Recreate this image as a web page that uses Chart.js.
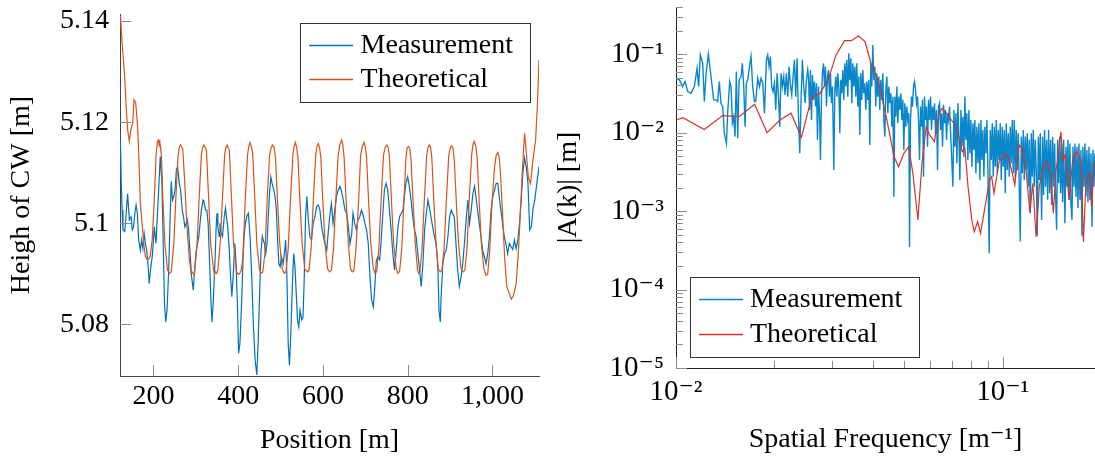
<!DOCTYPE html>
<html>
<head>
<meta charset="utf-8">
<title>Contact wire height and spectrum</title>
<script src="https://cdn.jsdelivr.net/npm/chart.js@4.4.1/dist/chart.umd.min.js"></script>
<style>
  body { margin: 0; background: #fff; }
  #wrap { position: relative; width: 1095px; height: 460px; }
  canvas { position: absolute; top: 0; }
  #heightChart { left: 0; }
  #spectrumChart { left: 548px; }
</style>
</head>
<body>
<div id="wrap">
  <canvas id="heightChart" width="548" height="460"></canvas>
  <canvas id="spectrumChart" width="547" height="460"></canvas>
</div>
<script>
// left plot: height of the contact wire along the line, [position m, height m]
var posTicks = [200, 400, 600, 800, 1000];
var heightTicks = [5.08, 5.1, 5.12, 5.14];

var measured = [
  [122, 5.1165], [124, 5.108], [126, 5.1026], [128, 5.0987], [132, 5.0984], [134, 5.1], [136, 5.1026], [139, 5.1059], [141, 5.1033], [143, 5.1007],
  [147, 5.1013], [150, 5.0987], [153, 5.0993], [156, 5.102], [159, 5.1036], [162, 5.102], [165, 5.0967], [169, 5.0947], [172, 5.0967], [175, 5.095],
  [178, 5.098], [181, 5.096], [184, 5.0947], [187, 5.092], [190, 5.0881], [193, 5.0908], [197, 5.0934], [200, 5.0967], [202, 5.0993], [206, 5.096],
  [209, 5.1013], [213, 5.1079], [216, 5.1132], [220, 5.1079], [223, 5.096], [226, 5.0842], [229, 5.0805], [232, 5.0828], [236, 5.0908], [239, 5.1],
  [242, 5.1083], [245, 5.1046], [248, 5.1053], [251, 5.1066], [254, 5.1106], [257, 5.1112], [261, 5.1079], [264, 5.1066], [268, 5.1026], [271, 5.1013],
  [274, 5.0993], [277, 5.1], [280, 5.1007], [283, 5.0987], [286, 5.0947], [290, 5.0894], [294, 5.0868], [297, 5.0908], [301, 5.0947], [304, 5.096],
  [307, 5.0974], [310, 5.1], [313, 5.1026], [317, 5.1046], [319, 5.1043], [323, 5.1026], [326, 5.1026], [329, 5.1], [332, 5.0934], [335, 5.0861],
  [338, 5.0805], [341, 5.0842], [345, 5.092], [348, 5.0993], [350, 5.102], [352, 5.0993], [355, 5.0974], [357, 5.1], [360, 5.098], [363, 5.0974],
  [367, 5.1013], [370, 5.103], [373, 5.1007], [376, 5.0987], [379, 5.0947], [382, 5.0894], [385, 5.0855], [389, 5.0908], [392, 5.096], [395, 5.092],
  [398, 5.0842], [401, 5.0743], [404, 5.0762], [408, 5.0842], [411, 5.092], [414, 5.0974], [417, 5.1], [421, 5.1016], [424, 5.102], [428, 5.0974],
  [432, 5.0894], [436, 5.0795], [440, 5.0729], [444, 5.07], [447, 5.0762], [451, 5.0875], [454, 5.0947], [457, 5.0974], [459, 5.0967], [462, 5.096],
  [465, 5.094], [468, 5.096], [471, 5.1013], [474, 5.1059], [477, 5.1092], [480, 5.1079], [484, 5.1066], [487, 5.1053], [490, 5.1026], [493, 5.0967],
  [496, 5.092], [499, 5.0914], [502, 5.0934], [506, 5.092], [509, 5.094], [512, 5.0967], [515, 5.0894], [518, 5.0762], [521, 5.0719], [524, 5.0776],
  [528, 5.0881], [531, 5.094], [534, 5.0914], [537, 5.0861], [540, 5.0809], [543, 5.0795], [546, 5.0828], [550, 5.0809], [553, 5.0815], [556, 5.0894],
  [559, 5.1013], [562, 5.1053], [565, 5.1013], [569, 5.0974], [573, 5.0967], [577, 5.1], [581, 5.1013], [585, 5.1033], [589, 5.1036], [593, 5.1026],
  [597, 5.0993], [601, 5.0974], [605, 5.096], [609, 5.0947], [613, 5.0987], [616, 5.1013], [620, 5.1039], [624, 5.1], [628, 5.1026], [632, 5.1053],
  [636, 5.1066], [640, 5.1073], [644, 5.1063], [648, 5.1046], [652, 5.1026], [656, 5.102], [660, 5.0993], [664, 5.096], [668, 5.098], [671, 5.102],
  [675, 5.1], [679, 5.0987], [683, 5.1007], [687, 5.1013], [691, 5.1026], [695, 5.1016], [699, 5.1], [703, 5.0987], [707, 5.096], [711, 5.0894],
  [715, 5.0848], [719, 5.0835], [723, 5.0881], [726, 5.0927], [730, 5.0934], [734, 5.0928], [737, 5.096], [741, 5.1013], [745, 5.1066], [749, 5.1079],
  [753, 5.1066], [757, 5.1026], [761, 5.0987], [765, 5.094], [769, 5.0908], [773, 5.0947], [777, 5.0993], [781, 5.1013], [785, 5.102], [789, 5.1026],
  [792, 5.1053], [796, 5.1079], [800, 5.1092], [804, 5.1073], [808, 5.1046], [812, 5.1013], [816, 5.0987], [820, 5.0974], [824, 5.094], [828, 5.0908],
  [832, 5.0875], [836, 5.092], [840, 5.0987], [844, 5.102], [848, 5.1046], [851, 5.1033], [855, 5.1013], [859, 5.0993], [863, 5.0974], [867, 5.096],
  [871, 5.092], [874, 5.0828], [877, 5.0805], [879, 5.0855], [883, 5.092], [887, 5.094], [891, 5.0947], [895, 5.0974], [899, 5.1013], [903, 5.1026],
  [906, 5.102], [910, 5.1013], [914, 5.096], [918, 5.0908], [922, 5.0875], [926, 5.0894], [930, 5.092], [934, 5.096], [938, 5.1007], [942, 5.1046],
  [946, 5.1], [950, 5.1026], [954, 5.1059], [958, 5.1073], [961, 5.1053], [965, 5.1026], [969, 5.1], [973, 5.0974], [977, 5.0947], [981, 5.0934],
  [985, 5.092], [989, 5.094], [993, 5.0974], [997, 5.1026], [1001, 5.1053], [1005, 5.1066], [1009, 5.1079], [1013, 5.1079], [1016, 5.1053], [1020, 5.1026],
  [1024, 5.1], [1028, 5.0974], [1032, 5.096], [1036, 5.094], [1040, 5.096], [1044, 5.0954], [1048, 5.0948], [1052, 5.0967], [1056, 5.095], [1060, 5.0967],
  [1064, 5.1], [1068, 5.1046], [1072, 5.11], [1076, 5.1129], [1080, 5.111], [1084, 5.1079], [1088, 5.0987], [1092, 5.0993], [1096, 5.103], [1100, 5.1046],
  [1105, 5.108], [1110, 5.1112]
];

var theoretical = [
  [122, 5.141], [126, 5.1356], [132, 5.129], [136, 5.1224], [139, 5.1185], [143, 5.1162], [147, 5.1188], [151, 5.1198], [154, 5.1244], [158, 5.1238],
  [162, 5.1198], [165, 5.1145], [169, 5.104], [173, 5.1], [177, 5.096], [181, 5.0934], [187, 5.0927], [192, 5.0934], [197, 5.0967], [202, 5.1046],
  [206, 5.1132], [209, 5.116], [211, 5.1165], [213, 5.1158], [215, 5.1162], [219, 5.1132], [222, 5.1053], [227, 5.096], [233, 5.0908], [238, 5.0901],
  [242, 5.0904], [248, 5.096], [253, 5.1053], [258, 5.1132], [261, 5.115], [264, 5.1155], [267, 5.115], [269, 5.1148], [274, 5.1079], [279, 5.0993],
  [285, 5.0927], [289, 5.0901], [291, 5.0904], [295, 5.0899], [297, 5.0901], [303, 5.096], [308, 5.1053], [313, 5.1135], [316, 5.115], [319, 5.1155],
  [322, 5.115], [325, 5.1145], [330, 5.1053], [335, 5.096], [341, 5.0914], [344, 5.0899], [346, 5.0904], [349, 5.0901], [352, 5.0908], [358, 5.0967],
  [363, 5.1053], [368, 5.1135], [371, 5.115], [374, 5.1155], [377, 5.1148], [379, 5.1145], [384, 5.1053], [389, 5.096], [396, 5.0904], [400, 5.0899],
  [404, 5.0901], [408, 5.091], [411, 5.0934], [417, 5.1053], [422, 5.1135], [425, 5.1152], [428, 5.116], [431, 5.1152], [434, 5.114], [439, 5.1053],
  [444, 5.096], [450, 5.091], [454, 5.0901], [458, 5.0904], [463, 5.094], [468, 5.104], [474, 5.1135], [478, 5.115], [481, 5.1155], [485, 5.115],
  [488, 5.113], [493, 5.104], [498, 5.096], [504, 5.091], [509, 5.0901], [513, 5.0905], [518, 5.095], [523, 5.104], [529, 5.1135], [532, 5.1152],
  [535, 5.116], [538, 5.115], [541, 5.113], [546, 5.104], [551, 5.096], [557, 5.091], [563, 5.0904], [567, 5.0906], [572, 5.095], [577, 5.104],
  [583, 5.1135], [586, 5.1152], [589, 5.1158], [592, 5.115], [595, 5.113], [600, 5.104], [605, 5.096], [611, 5.091], [616, 5.0904], [620, 5.0907],
  [625, 5.095], [630, 5.104], [636, 5.1135], [640, 5.1155], [644, 5.1165], [647, 5.1155], [650, 5.113], [655, 5.104], [660, 5.096], [665, 5.091],
  [669, 5.0904], [673, 5.0906], [678, 5.095], [684, 5.104], [689, 5.1135], [693, 5.1152], [697, 5.116], [700, 5.1152], [703, 5.113], [708, 5.104],
  [713, 5.096], [719, 5.091], [723, 5.0901], [727, 5.0905], [732, 5.095], [737, 5.104], [743, 5.1135], [747, 5.115], [751, 5.1155], [754, 5.115],
  [757, 5.113], [762, 5.104], [767, 5.096], [773, 5.091], [777, 5.0901], [781, 5.0905], [786, 5.095], [791, 5.104], [796, 5.113], [799, 5.115],
  [802, 5.1152], [805, 5.1148], [808, 5.1125], [813, 5.104], [818, 5.096], [823, 5.091], [826, 5.0901], [829, 5.0905], [834, 5.095], [839, 5.104],
  [845, 5.1135], [848, 5.115], [851, 5.1155], [854, 5.115], [857, 5.113], [862, 5.104], [867, 5.096], [872, 5.091], [877, 5.0904], [881, 5.0908],
  [886, 5.095], [891, 5.104], [897, 5.1135], [901, 5.115], [904, 5.1153], [907, 5.1148], [910, 5.1125], [915, 5.104], [920, 5.096], [926, 5.091],
  [931, 5.0904], [935, 5.0907], [940, 5.095], [945, 5.104], [951, 5.1135], [954, 5.1155], [957, 5.1162], [961, 5.1152], [964, 5.113], [969, 5.104],
  [974, 5.096], [980, 5.091], [985, 5.0897], [989, 5.09], [994, 5.095], [999, 5.104], [1005, 5.111], [1009, 5.1135], [1013, 5.114], [1016, 5.113],
  [1019, 5.11], [1024, 5.102], [1029, 5.093], [1034, 5.0875], [1040, 5.086], [1045, 5.085], [1050, 5.0858], [1056, 5.088], [1061, 5.094], [1066, 5.102],
  [1071, 5.111], [1076, 5.1178], [1080, 5.114], [1085, 5.109], [1090, 5.1079], [1095, 5.112], [1102, 5.1165], [1106, 5.123], [1110, 5.1323]
];

// right plot: amplitude spectrum, [spatial frequency 1/m, |A(k)| m]
var freqTicks = [0.01, 0.1];
var freqTickLabels = ['10\u207B\u00B2', '10\u207B\u00B9'];
var ampTicks = [1e-5, 1e-4, 1e-3, 1e-2, 1e-1];
var ampTickLabels = ['10\u207B\u2075', '10\u207B\u2074', '10\u207B\u00B3', '10\u207B\u00B2', '10\u207B\u00B9'];

var specMeasured = [
  [0.01, 0.0494], [0.01024, 0.0471], [0.01048, 0.0387], [0.01066, 0.0448], [0.01086, 0.0334], [0.01111, 0.0318], [0.01138, 0.0387], [0.0116, 0.0663],
  [0.01173, 0.0387], [0.01187, 0.098], [0.01207, 0.0767], [0.01221, 0.0249], [0.01236, 0.0573], [0.01256, 0.1], [0.0128, 0.0519], [0.01304, 0.0262],
  [0.01326, 0.0262], [0.01341, 0.0249], [0.01357, 0.0448], [0.01373, 0.0237], [0.0139, 0.0215], [0.01406, 0.0098], [0.01427, 0.0073], [0.01439, 0.0177],
  [0.0146, 0.0448], [0.01474, 0.0387], [0.01488, 0.0132], [0.01502, 0.016], [0.01516, 0.0089], [0.0153, 0.0601], [0.01545, 0.0085], [0.0156, 0.0471],
  [0.01582, 0.0519], [0.01596, 0.0767], [0.01612, 0.0387], [0.01627, 0.0119], [0.01642, 0.0427], [0.01658, 0.0471], [0.01673, 0.0631], [0.01697, 0.0933],
  [0.01717, 0.0387], [0.01738, 0.0249], [0.01754, 0.0249], [0.01779, 0.0494], [0.018, 0.0387], [0.01821, 0.0494], [0.01843, 0.0427], [0.01865, 0.0177],
  [0.01891, 0.0847], [0.01909, 0.098], [0.01927, 0.0697], [0.01945, 0.0933], [0.01963, 0.0387], [0.01982, 0.0334], [0.02001, 0.0427], [0.0202, 0.0195],
  [0.02039, 0.0573], [0.02058, 0.0303], [0.02078, 0.0119], [0.02097, 0.0573], [0.02117, 0.0387], [0.02137, 0.0519], [0.02157, 0.0303], [0.02177, 0.0573],
  [0.02198, 0.0288], [0.02219, 0.0697], [0.0224, 0.0406], [0.02261, 0.0303], [0.02282, 0.0519], [0.02304, 0.0847], [0.02325, 0.0288], [0.02347, 0.0889],
  [0.02369, 0.0177], [0.02392, 0.00546], [0.02414, 0.0262], [0.02437, 0.0847], [0.0246, 0.0387], [0.02483, 0.0237], [0.02507, 0.0471], [0.0253, 0.0631],
  [0.02544, 0.0519], [0.02562, 0.0195], [0.0258, 0.0631], [0.02598, 0.0145], [0.02617, 0.0545], [0.02635, 0.0262], [0.02654, 0.0448], [0.02673, 0.0215],
  [0.02692, 0.0427], [0.0271, 0.0081], [0.0273, 0.0387], [0.02749, 0.0177], [0.02768, 0.00449], [0.02788, 0.0288], [0.02807, 0.0573], [0.02827, 0.0767],
  [0.02847, 0.0387], [0.02867, 0.0697], [0.02888, 0.0215], [0.02908, 0.0519], [0.02929, 0.0631], [0.02949, 0.0288], [0.0297, 0.0573], [0.02991, 0.0237],
  [0.03013, 0.0387], [0.03041, 0.00335], [0.03063, 0.0351], [0.03084, 0.0519], [0.03106, 0.0288], [0.03128, 0.0573], [0.0315, 0.0387], [0.03172, 0.0098],
  [0.03194, 0.0471], [0.03217, 0.0318], [0.0324, 0.0631], [0.03263, 0.0262], [0.03286, 0.0767], [0.03309, 0.0387], [0.03332, 0.0847], [0.03356, 0.0288],
  [0.0338, 0.103], [0.03404, 0.0471], [0.03428, 0.0889], [0.03452, 0.0237], [0.03477, 0.0767], [0.03501, 0.0387], [0.03526, 0.0697], [0.03551, 0.0288],
  [0.03576, 0.0767], [0.03601, 0.0215], [0.03627, 0.0519], [0.03652, 0.00936], [0.03678, 0.0573], [0.03704, 0.0262], [0.0373, 0.0631], [0.03757, 0.0318],
  [0.03783, 0.0427], [0.0381, 0.0195], [0.03837, 0.0448], [0.03864, 0.0262], [0.03891, 0.0471], [0.03919, 0.00698], [0.03947, 0.0767], [0.03975, 0.0387],
  [0.04003, 0.1315], [0.04031, 0.0471], [0.0406, 0.0697], [0.04088, 0.0215], [0.04117, 0.0573], [0.04147, 0.0288], [0.04176, 0.0519], [0.04205, 0.0195],
  [0.04235, 0.0471], [0.04266, 0.0262], [0.04296, 0.0573], [0.04326, 0.0145], [0.04357, 0.0089], [0.04388, 0.0351], [0.04419, 0.0519], [0.0445, 0.0177],
  [0.04482, 0.0387], [0.04514, 0.0237], [0.04546, 0.0318], [0.04578, 0.0119], [0.0461, 0.0288], [0.04643, 0.00153], [0.04675, 0.0288], [0.04709, 0.016],
  [0.04742, 0.0387], [0.04775, 0.0132], [0.04809, 0.0288], [0.04843, 0.0195], [0.04877, 0.0318], [0.04912, 0.0145], [0.04946, 0.0262], [0.04981, 0.006],
  [0.05016, 0.0237], [0.05052, 0.0119], [0.05088, 0.0215], [0.05123, 0.0145], [0.0516, 0.0177], [0.05184, 0.00035], [0.05221, 0.0145], [0.05258, 0.0288],
  [0.05295, 0.0215], [0.05333, 0.0387], [0.0537, 0.0448], [0.05408, 0.0351], [0.05447, 0.0237], [0.05485, 0.0288], [0.05524, 0.0145], [0.05563, 0.00449],
  [0.05602, 0.0215], [0.05642, 0.0119], [0.05682, 0.0262], [0.05722, 0.00275], [0.05762, 0.0288], [0.05803, 0.0145], [0.05844, 0.0215], [0.05886, 0.0066],
  [0.05927, 0.0262], [0.0597, 0.0145], [0.06012, 0.0288], [0.06054, 0.0108], [0.06097, 0.0215], [0.0614, 0.0145], [0.06184, 0.0237], [0.06228, 0.0098],
  [0.06271, 0.0195], [0.06316, 0.00335], [0.06361, 0.0215], [0.06406, 0.0237], [0.06451, 0.0108], [0.06496, 0.0177], [0.06542, 0.0066], [0.06589, 0.0226],
  [0.06635, 0.0132], [0.06683, 0.0195], [0.0673, 0.0081], [0.06777, 0.0177], [0.06826, 0.0145], [0.06873, 0.0215], [0.07038, 0.00205], [0.07087, 0.0195],
  [0.07137, 0.0066], [0.07188, 0.0177], [0.07238, 0.00407], [0.0729, 0.0237], [0.07341, 0.0089], [0.07393, 0.00249], [0.07447, 0.0195], [0.07499, 0.0066],
  [0.07552, 0.016], [0.07606, 0.00495], [0.07659, 0.0288], [0.07713, 0.0081], [0.07767, 0.0177], [0.07822, 0.00449], [0.07878, 0.0195], [0.07933, 0.00546],
  [0.07989, 0.0145], [0.08046, 0.00369], [0.08102, 0.0132], [0.0816, 0.006], [0.08217, 0.0145], [0.08276, 0.00303], [0.08335, 0.0119], [0.08395, 0.00407],
  [0.08453, 0.0132], [0.08514, 0.00249], [0.08573, 0.0145], [0.08634, 0.00449], [0.08695, 0.0108], [0.08757, 0.00275], [0.08819, 0.0119], [0.0888, 0.00546],
  [0.08944, 0.0145], [0.09008, 0.00335], [0.09091, 0.00029], [0.09156, 0.0108], [0.09222, 0.00449], [0.09287, 0.0132], [0.09354, 0.00275], [0.09419, 0.0119],
  [0.09487, 0.00369], [0.09555, 0.0145], [0.09622, 0.00303], [0.09689, 0.0108], [0.09759, 0.00449], [0.09826, 0.0132], [0.09897, 0.00249], [0.09966, 0.0119],
  [0.10037, 0.00369], [0.10109, 0.0108], [0.10179, 0.00169], [0.10252, 0.0132], [0.10325, 0.00335], [0.10397, 0.0098], [0.10471, 0.00275], [0.10544, 0.0119],
  [0.10619, 0.00407], [0.10695, 0.0145], [0.10769, 0.00303], [0.10846, 0.0145], [0.10924, 0.00249], [0.11, 0.0108], [0.11078, 0.00335], [0.11155, 0.0098],
  [0.11235, 0.00205], [0.11316, 0.00041], [0.11394, 0.0089], [0.11476, 0.00303], [0.11558, 0.0108], [0.11638, 0.00249], [0.11722, 0.0089], [0.11803, 0.00335],
  [0.11888, 0.0098], [0.11973, 0.00205], [0.12056, 0.0081], [0.12142, 0.00094], [0.12229, 0.0098], [0.12314, 0.00275], [0.12402, 0.0108], [0.12488, 0.00205],
  [0.12578, 0.0081], [0.12668, 0.00303], [0.12756, 0.00048], [0.12847, 0.0089], [0.12939, 0.00249], [0.13029, 0.0098], [0.13152, 0.00077], [0.13246, 0.0089],
  [0.13338, 0.0016], [0.13434, 0.0108], [0.13527, 0.00205], [0.13624, 0.0081], [0.13722, 0.0014], [0.13817, 0.0108], [0.13916, 0.00169], [0.14015, 0.0081],
  [0.14113, 0.0012], [0.14214, 0.0089], [0.14312, 0.00205], [0.14415, 0.0073], [0.14518, 0.0015], [0.14619, 0.00058], [0.14723, 0.0081], [0.14829, 0.00226],
  [0.14932, 0.0089], [0.15039, 0.00169], [0.15143, 0.0073], [0.15251, 0.0013], [0.15361, 0.0081], [0.15503, 0.0007], [0.15614, 0.0066], [0.15726, 0.00205],
  [0.15835, 0.0081], [0.15948, 0.00139], [0.16059, 0.0073], [0.16174, 0.0012], [0.1629, 0.00077], [0.16403, 0.0066], [0.1652, 0.00205], [0.16634, 0.0073],
  [0.16753, 0.00153], [0.16873, 0.0066], [0.1699, 0.0011], [0.17112, 0.0073], [0.17234, 0.00139], [0.17354, 0.006], [0.17478, 0.00048], [0.17599, 0.0066],
  [0.17725, 0.00205], [0.17852, 0.0073], [0.17976, 0.00153], [0.18104, 0.006], [0.18234, 0.0013], [0.1836, 0.0066], [0.18492, 0.00139], [0.18621, 0.00546],
  [0.18754, 0.00063], [0.18888, 0.006], [0.19019, 0.00205], [0.19156, 0.00546]
];

var specTheoretical = [
  [0.01, 0.0145], [0.0105, 0.0155], [0.0122, 0.011], [0.0139, 0.0165], [0.0156, 0.016], [0.0174, 0.023], [0.019, 0.01], [0.0208, 0.0145],
  [0.0225, 0.0177], [0.0242, 0.0087], [0.026, 0.028], [0.0275, 0.0312], [0.0292, 0.047], [0.0309, 0.098], [0.0328, 0.149], [0.0344, 0.149],
  [0.0362, 0.171], [0.0379, 0.145], [0.0395, 0.0767], [0.0415, 0.047], [0.044, 0.016], [0.0465, 0.00494], [0.048, 0.00368], [0.0498, 0.00546],
  [0.0515, 0.00662], [0.0531, 0.00303], [0.055, 0.00077], [0.0566, 0.00407], [0.0583, 0.0119], [0.0597, 0.00935], [0.0618, 0.00767], [0.0637, 0.0168],
  [0.0652, 0.0205], [0.0679, 0.0168], [0.0708, 0.0132], [0.0731, 0.00935], [0.0752, 0.00573], [0.0766, 0.00632], [0.0783, 0.00205], [0.0804, 0.00077],
  [0.0818, 0.000546], [0.0838, 0.000733], [0.0855, 0.000521], [0.0883, 0.00114], [0.091, 0.0025], [0.0925, 0.00275], [0.094, 0.00169], [0.0975, 0.00427],
  [0.1016, 0.00546], [0.1047, 0.00449], [0.1089, 0.00215], [0.1122, 0.00697], [0.1151, 0.00601], [0.1178, 0.00334], [0.1211, 0.00098], [0.1236, 0.00226],
  [0.1265, 0.000472], [0.1294, 0.00205], [0.133, 0.00368], [0.1368, 0.00427], [0.1403, 0.00275], [0.1429, 0.00094], [0.1455, 0.00334], [0.1479, 0.00494],
  [0.1507, 0.0103], [0.1528, 0.00449], [0.1552, 0.00519], [0.1596, 0.00139], [0.1637, 0.00449], [0.1683, 0.00573], [0.1734, 0.00449], [0.1766, 0.000407],
  [0.1799, 0.0025], [0.1841, 0.00303], [0.1871, 0.00114], [0.1901, 0.00427]
];

Chart.defaults.font.family = "'Liberation Serif', 'DejaVu Serif', serif";
Chart.defaults.color = '#000';

function toXY(pairs) {
  return pairs.map(function (p) { return {x: p[0], y: p[1]}; });
}

// 1..9 times each decade, for the log axes; minor ones get short marks
function logTicks(decades, min, max) {
  var out = [];
  decades.forEach(function (d) {
    for (var k = 1; k <= 9; k++) {
      var v = d * k;
      if (v >= min * 0.999 && v <= max * 1.001) out.push({value: v, minor: k > 1});
    }
  });
  return out;
}

// pgfplots style tick marks drawn inward from the axis lines
const innerTicks = {
  id: 'innerTicks',
  afterDatasetsDraw(chart, args, opts) {
    const ctx = chart.ctx, a = chart.chartArea;
    ctx.save();
    ctx.strokeStyle = opts.color;
    ctx.lineWidth = 1;
    ctx.beginPath();
    chart.scales.x.ticks.forEach(function (t) {
      const px = Math.round(chart.scales.x.getPixelForValue(t.value)) + 0.5;
      const len = t.minor ? opts.minorLen : opts.majorLen;
      ctx.moveTo(px, a.bottom);
      ctx.lineTo(px, a.bottom - len);
    });
    chart.scales.y.ticks.forEach(function (t) {
      const py = Math.round(chart.scales.y.getPixelForValue(t.value)) + 0.5;
      const len = t.minor ? opts.minorLen : opts.majorLen;
      ctx.moveTo(a.left, py);
      ctx.lineTo(a.left + len, py);
    });
    ctx.stroke();
    ctx.restore();
  }
};

// framed legend inside the plot area
const boxLegend = {
  id: 'boxLegend',
  afterDraw(chart, args, o) {
    const ctx = chart.ctx, a = chart.chartArea;
    const sets = chart.data.datasets;
    ctx.save();
    ctx.font = o.size + "px 'Liberation Serif', serif";
    const textW = Math.max.apply(null, sets.map(function (d) { return ctx.measureText(d.label).width; }));
    const w = o.padLeft + o.sample + o.gap + textW + o.padRight;
    const h = o.rowH * sets.length + o.padY * 2;
    const x = o.corner === 'ne' ? a.right - o.dx - w : a.left + o.dx;
    const y = o.corner === 'ne' ? a.top + o.dy : a.bottom - o.dy - h;
    ctx.fillStyle = '#fff';
    ctx.fillRect(x, y, w, h);
    ctx.strokeStyle = '#333';
    ctx.lineWidth = 1;
    ctx.strokeRect(Math.round(x) + 0.5, Math.round(y) + 0.5, Math.round(w), Math.round(h));
    sets.forEach(function (d, i) {
      const cy = y + o.padY + o.rowH * (i + 0.5);
      ctx.strokeStyle = d.borderColor;
      ctx.lineWidth = 1.4;
      ctx.beginPath();
      ctx.moveTo(x + o.padLeft, cy);
      ctx.lineTo(x + o.padLeft + o.sample, cy);
      ctx.stroke();
      ctx.fillStyle = '#000';
      ctx.textBaseline = 'middle';
      ctx.textAlign = 'left';
      ctx.fillText(d.label, x + o.padLeft + o.sample + o.gap, cy);
    });
    ctx.restore();
  }
};

new Chart('heightChart', {
  type: 'line',
  data: {
    datasets: [{
      label: 'Measurement',
      data: toXY(measured),
      borderColor: '#0072bd',
      borderWidth: 1.2,
      order: 1
    }, {
      label: 'Theoretical',
      data: toXY(theoretical),
      borderColor: '#d95319',
      borderWidth: 1.2,
      order: 0
    }]
  },
  options: {
    responsive: false,
    animation: false,
    elements: { point: { radius: 0 }, line: { tension: 0 } },
    layout: { padding: { top: 14, right: 9, left: 0, bottom: 0 } },
    plugins: {
      legend: { display: false },
      tooltip: { enabled: false },
      innerTicks: { color: '#8c8c8c', majorLen: 11, minorLen: 7 },
      boxLegend: { corner: 'ne', dx: 9, dy: 9, size: 28, padLeft: 9, sample: 44, gap: 7.5, padRight: 17, rowH: 34, padY: 5.5 }
    },
    scales: {
      x: {
        type: 'linear',
        min: 121,
        max: 1110,
        afterBuildTicks: function (axis) { axis.ticks = posTicks.map(function (v) { return {value: v}; }); },
        afterFit: function (s) { s.height = 84; s.paddingLeft = 0; s.paddingRight = 0; },
        grid: { display: false, drawTicks: false },
        border: { display: true, color: '#444', width: 1 },
        ticks: {
          font: { size: 28 }, padding: 4, maxRotation: 0, minRotation: 0, autoSkip: false,
          callback: function (v) { return v.toLocaleString('en-US'); }
        },
        title: { display: true, text: 'Position [m]', font: { size: 28 }, padding: { top: 0, bottom: 3 } }
      },
      y: {
        type: 'linear',
        min: 5.0698,
        max: 5.1414,
        afterBuildTicks: function (axis) { axis.ticks = heightTicks.map(function (v) { return {value: v}; }); },
        afterFit: function (s) { s.width = 120; s.paddingTop = 0; s.paddingBottom = 0; },
        grid: { display: false, drawTicks: false },
        border: { display: true, color: '#444', width: 1 },
        ticks: {
          font: { size: 28 }, padding: 11, autoSkip: false,
          callback: function (v) { return String(v); }
        },
        title: { display: true, text: 'Heigh of CW [m]', font: { size: 28 }, padding: { top: 5, bottom: 0 } }
      }
    }
  },
  plugins: [innerTicks, boxLegend]
});

new Chart('spectrumChart', {
  type: 'line',
  data: {
    datasets: [{
      label: 'Measurement',
      data: toXY(specMeasured),
      borderColor: '#0a87cb',
      borderWidth: 1.4,
      order: 1
    }, {
      label: 'Theoretical',
      data: toXY(specTheoretical),
      borderColor: '#d8322a',
      borderWidth: 1.2,
      order: 0
    }]
  },
  options: {
    responsive: false,
    animation: false,
    elements: { point: { radius: 0 }, line: { tension: 0 } },
    layout: { padding: { top: 7, right: 0, left: 0, bottom: 0 } },
    plugins: {
      legend: { display: false },
      tooltip: { enabled: false },
      innerTicks: { color: '#8c8c8c', majorLen: 11, minorLen: 7 },
      boxLegend: { corner: 'sw', dx: 14, dy: 11, size: 28, padLeft: 9, sample: 44, gap: 7, padRight: 17, rowH: 35, padY: 5 }
    },
    scales: {
      x: {
        type: 'logarithmic',
        min: 0.01,
        max: 0.1916,
        afterBuildTicks: function (axis) { axis.ticks = logTicks([0.01, 0.1], 0.01, 0.1916); },
        afterFit: function (s) { s.height = 92; s.paddingLeft = 0; s.paddingRight = 0; },
        grid: { display: false, drawTicks: false },
        border: { display: true, color: '#222', width: 1 },
        ticks: {
          font: { size: 29 }, padding: 7, maxRotation: 0, minRotation: 0, autoSkip: false,
          callback: function (v) { var i = freqTicks.indexOf(v); return i >= 0 ? freqTickLabels[i] : ''; }
        },
        title: { display: true, text: 'Spatial Frequency [m\u207B\u00B9]', font: { size: 28 }, padding: { top: 0, bottom: 4 } }
      },
      y: {
        type: 'logarithmic',
        min: 1e-5,
        max: 0.4,
        afterBuildTicks: function (axis) { axis.ticks = logTicks(ampTicks, 1e-5, 0.4); },
        afterFit: function (s) { s.width = 128; s.paddingTop = 0; s.paddingBottom = 0; },
        grid: { display: false, drawTicks: false },
        border: { display: true, color: '#222', width: 1 },
        ticks: {
          font: { size: 29 }, padding: 12, autoSkip: false,
          callback: function (v) { var i = ampTicks.indexOf(v); return i >= 0 ? ampTickLabels[i] : ''; }
        },
        title: { display: true, text: '|A(k)| [m]', font: { size: 28 }, padding: { top: 4, bottom: 0 } }
      }
    }
  },
  plugins: [innerTicks, boxLegend]
});
</script>
</body>
</html>
